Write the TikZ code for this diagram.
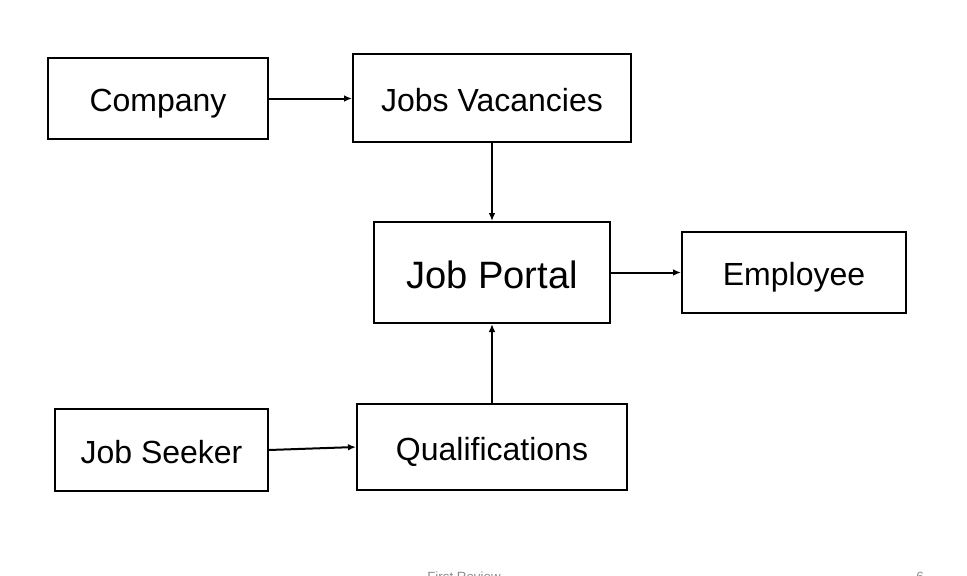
\documentclass[tikz,border=0pt]{standalone}
\usepackage{fontspec}
\setmainfont{Liberation Sans}
\usetikzlibrary{arrows.meta}
\begin{document}
\begin{tikzpicture}[x=0.75pt,y=-0.75pt,
  box/.style={draw=black,line width=1.5pt,minimum width=#1,inner sep=0pt,text height=20pt,text depth=0pt,font=\fontsize{24}{28}\selectfont},
  conn/.style={line width=1.5pt,-{Latex[length=6pt,width=5pt]}},
  footer/.style={text=black!45,font=\fontsize{10}{12}\selectfont,anchor=base}]
\useasboundingbox[fill=white] (0,0) rectangle (967,575);
\node[box=220*0.75pt,minimum height=81*0.75pt] (company) at (158,98.5) {Company};
\node[box=278*0.75pt,minimum height=88*0.75pt] (vac) at (492,98) {Jobs Vacancies};
\node[box=236*0.75pt,minimum height=101*0.75pt,text height=24pt,font=\fontsize{28.6}{32}\selectfont] (portal) at (492,272.5) {Job Portal};
\node[box=224*0.75pt,minimum height=81*0.75pt] (emp) at (794,272.5) {Employee};
\node[box=213*0.75pt,minimum height=82*0.75pt] (seeker) at (161.5,450) {Job Seeker};
\node[box=270*0.75pt,minimum height=86*0.75pt] (qual) at (492,447) {Qualifications};
\draw[conn] (company.east) -- (vac.west |- company.east);
\draw[conn] (vac.south) -- (portal.north);
\draw[conn] (portal.east) -- (emp.west);
\draw[conn] (seeker.east) -- (qual.west);
\draw[conn] (qual.north) -- (portal.south);
\node[footer] (foot) at (464,581) {First Review};
\node[footer] (page) at (920,581) {6};
\end{tikzpicture}
\end{document}
